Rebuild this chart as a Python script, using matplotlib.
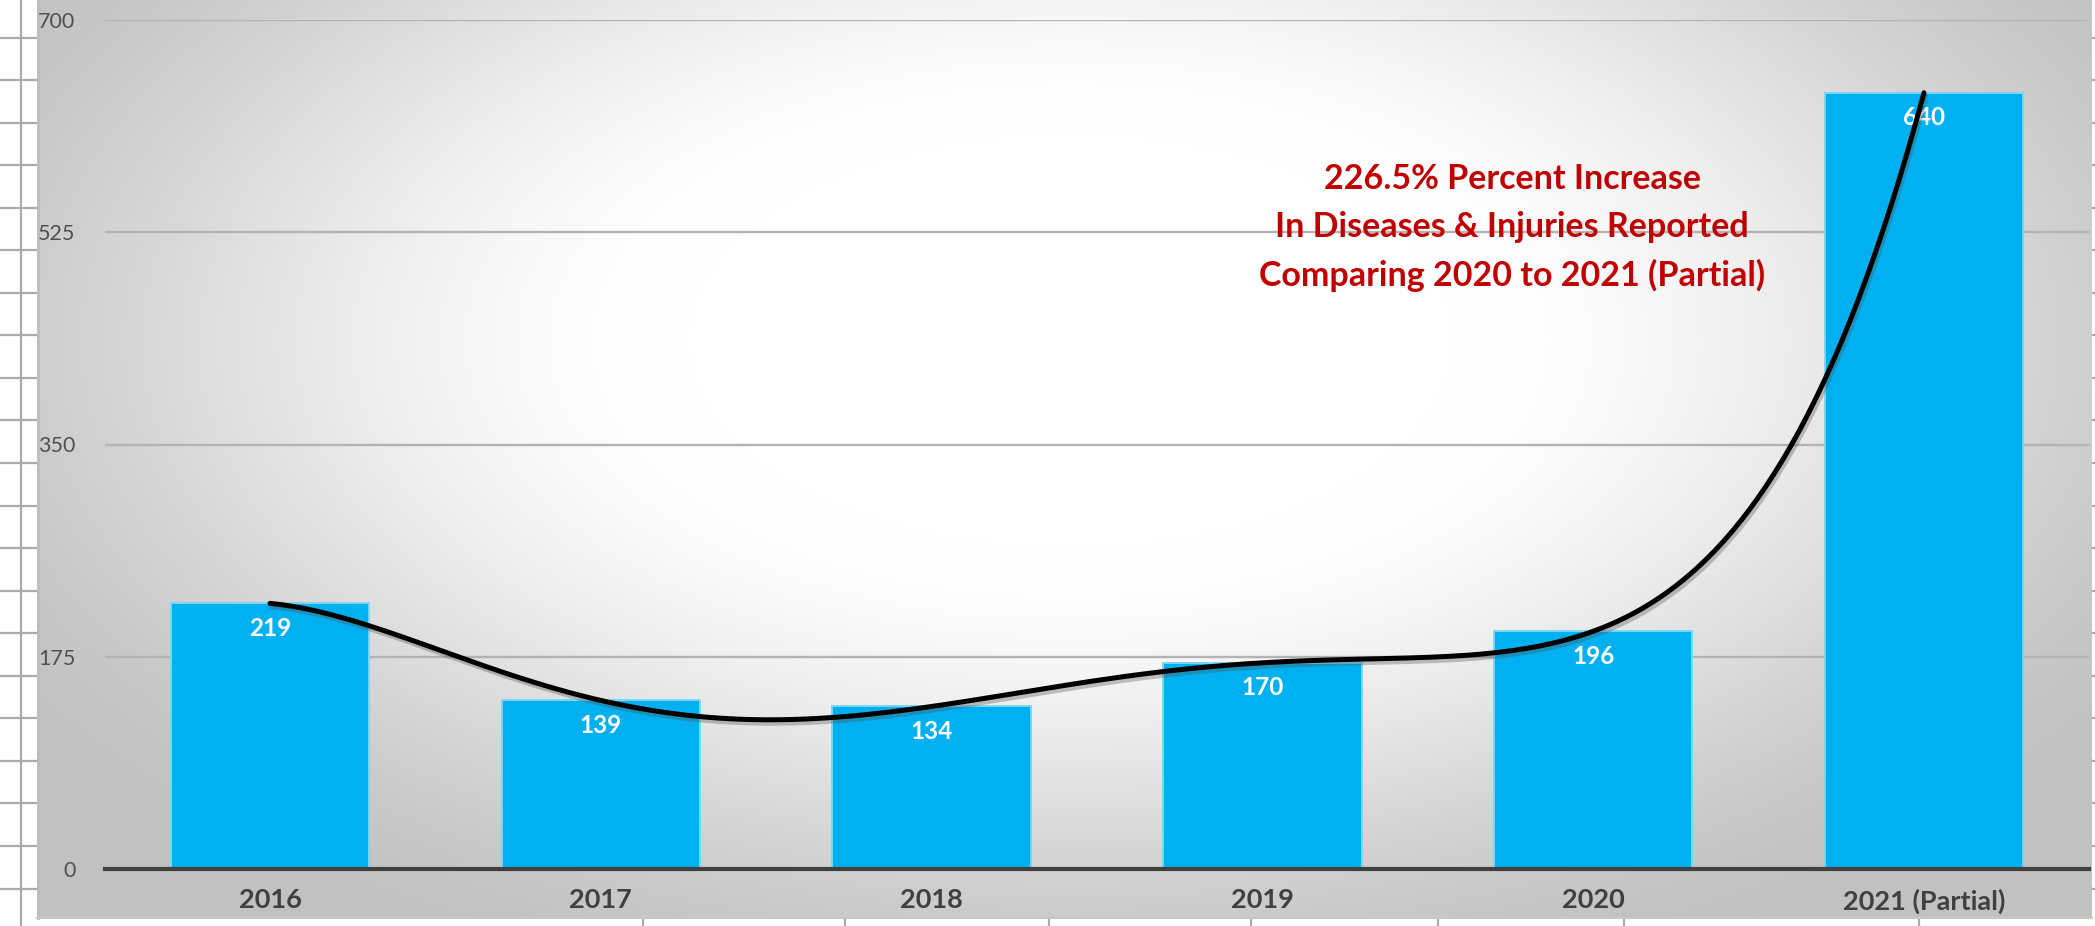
import matplotlib
matplotlib.use("Agg")
import matplotlib.pyplot as plt
import matplotlib.patheffects as pe
import numpy as np

# data
years = ['2016', '2017', '2018', '2019', '2020', '2021 (Partial)']
reported = [219, 139, 134, 170, 196, 640]
y_ticks = [0, 175, 350, 525, 700]
note = "226.5% Percent Increase\nIn Diseases & Injuries Reported\nComparing 2020 to 2021 (Partial)"

W, H = 2095, 926
plt.rcParams['font.family'] = ['Lato', 'DejaVu Sans']

fig = plt.figure(figsize=(W / 100, H / 100), dpi=100)
fig.patch.set_facecolor('white')

# spreadsheet behind the chart + gradient chart area, in pixel coords
bg = fig.add_axes([0, 0, 1, 1])
bg.set_xlim(0, W)
bg.set_ylim(H, 0)
bg.axis('off')

cx0, cx1, cy0, cy1 = 37, 2092, 0, 918
xx, yy = np.meshgrid(np.arange(cx0, cx1), np.arange(cy0, cy1))
d = np.sqrt(((xx - 1070) / 1150.0) ** 2 + ((yy - 340) / 620.0) ** 2)
t = np.clip((d - 0.33) / 0.8, 0, 1)
t = t * t * (3 - 2 * t)
shade = 1 - 0.24 * t
img = np.dstack([shade, shade, shade])
bg.imshow(img, extent=(cx0, cx1, cy1, cy0), aspect='auto', zorder=1)
bg.plot([cx0 + 1, cx0 + 1], [0, cy1], color='#bdbdbd', lw=2, zorder=2)
bg.plot([cx0, cx1], [cy1, cy1], color='#c8c8c8', lw=1.5, zorder=2)

grid_c = '#ababab'
rows = np.arange(37.5, H, 42.55)
for r in rows:
    bg.plot([0, cx0], [r, r], color=grid_c, lw=1.6, zorder=0)
    bg.plot([cx1, W], [r, r], color=grid_c, lw=1.6, zorder=0)
bg.plot([21, 21], [0, H], color=grid_c, lw=1.6, zorder=0)
for c in [643, 845, 1049, 1251, 1438, 1624, 1919]:
    bg.plot([c, c], [cy1, H], color=grid_c, lw=1.6, zorder=0)

# main chart
left, right = 104.6, 2089.4
top, bottom = 20, 869
ax = fig.add_axes([left / W, 1 - bottom / H, (right - left) / W, (bottom - top) / H])
ax.set_facecolor('none')
x = np.arange(len(years))
ax.bar(x, reported, width=0.6, color='#00b0f0', edgecolor='#7fd4f6', linewidth=1.4, zorder=2)
ax.set_xlim(-0.5, len(years) - 0.5)
ax.set_ylim(0, 700)

ax.set_yticks(y_ticks)
ax.set_yticklabels([str(v) for v in y_ticks])
ax.grid(axis='y', color='#b3b3b3', linewidth=1.7, zorder=0)
ax.set_axisbelow(True)
for s in ['top', 'left', 'right']:
    ax.spines[s].set_visible(False)
ax.spines['bottom'].set_color('#404040')
ax.spines['bottom'].set_linewidth(3)
ax.spines['bottom'].set_zorder(3)

ax.set_xticks(x)
ax.set_xticklabels(years, fontsize=19.5, fontweight='bold', color='#404040')
ax.tick_params(axis='x', length=0, pad=14)
ax.tick_params(axis='y', length=0, pad=21, labelsize=15.5, labelcolor='#505050')

for i, v in enumerate(reported):
    ax.annotate(str(v), (i, v), xytext=(0, -18), textcoords='offset points',
                ha='center', va='center', color='white', fontsize=17.5, fontweight='bold', zorder=4)

# 5th order trendline through the yearly counts
coef = np.polyfit(x, reported, 5)
xs = np.linspace(0, len(years) - 1, 400)
ax.plot(xs, np.polyval(coef, xs), color='black', lw=3.6, solid_capstyle='round', zorder=5,
        path_effects=[pe.SimpleLineShadow(offset=(1.5, -2.5), shadow_color='#555555', alpha=0.35),
                      pe.Normal()])

ax.text(3.755, 529, note, ha='center', va='center', color='#c00000', fontsize=24.5,
        fontweight='bold', linespacing=1.6, zorder=6)

fig.savefig('out.png', dpi=100)
